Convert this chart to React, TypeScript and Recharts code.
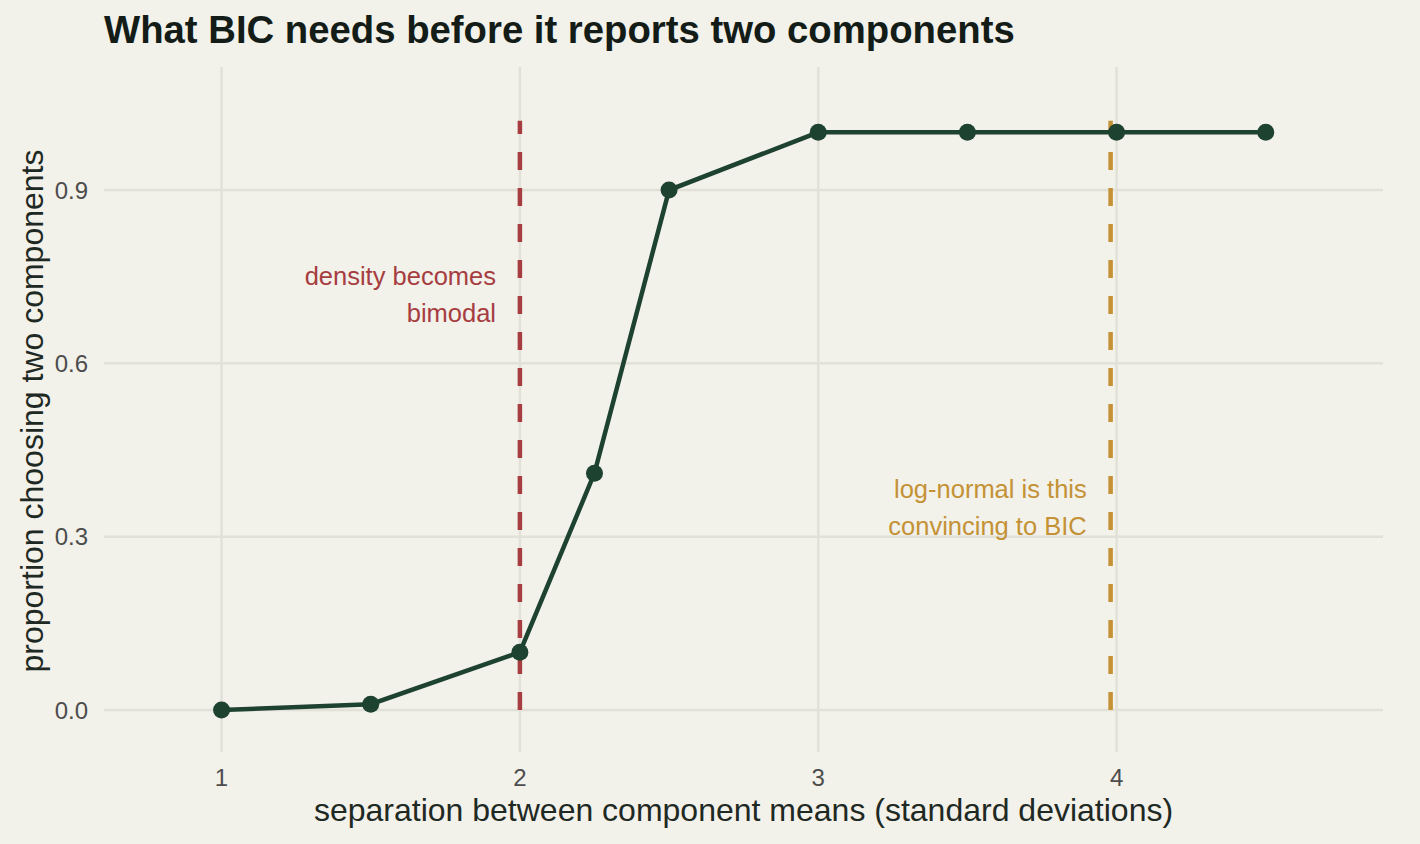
import { LineChart, Line, XAxis, YAxis, ReferenceLine, ReferenceDot } from "recharts";

// simulation result: share of runs where BIC picks two components
const separation = [1, 1.5, 2, 2.25, 2.5, 3, 3.5, 4, 4.5];
const proportion = [0, 0.01, 0.1, 0.41, 0.9, 1, 1, 1, 1];

const xTicks = [1, 2, 3, 4];
const yTicks = [0, 0.3, 0.6, 0.9];

// vertical markers
const markerX = [2, 3.98];
const markerTop = 1.02;
const markerColors = ["#A63D40", "#C49235"];

// annotations (right-aligned text, anchored between the two lines)
const noteX = [1.92, 3.9];
const noteY = [0.7035, 0.335];
const noteLines = [
  ["density becomes", "bimodal"],
  ["log-normal is this", "convincing to BIC"],
];

const data = separation.map((x, i) => ({ x, p: proportion[i] }));

const BG = "#F2F1EA";
const GRID = "#E2E1D8";
const INK = "#1E4230";
const FONT = '"Liberation Sans", Arial, Helvetica, sans-serif';

const W = 1420;
const H = 844;

function Note({ cx, cy, lines, color }: any) {
  return (
    <text x={cx} y={cy} textAnchor="end" fill={color} fontSize={25.5} fontFamily={FONT}>
      <tspan x={cx} dy={-18.5}>{lines[0]}</tspan>
      <tspan x={cx} dy={37}>{lines[1]}</tspan>
    </text>
  );
}

export default function App() {
  return (
    <div
      style={{
        position: "absolute",
        left: 0,
        top: 0,
        width: W,
        height: H,
        background: BG,
        fontFamily: FONT,
      }}
    >
      <LineChart width={W} height={H} data={data} margin={{ top: 67, right: 37, bottom: 0, left: 0 }}>
        <XAxis
          dataKey="x"
          type="number"
          domain={[0.606, 4.893]}
          ticks={xTicks}
          allowDataOverflow
          height={92}
          axisLine={false}
          tickLine={false}
          tickSize={0}
          tickMargin={17}
          tick={{ fontSize: 24, fill: "#4D4D4D", fontFamily: FONT }}
        />
        <YAxis
          type="number"
          domain={[-0.0727, 1.113]}
          ticks={yTicks}
          allowDataOverflow
          width={104}
          axisLine={false}
          tickLine={false}
          tickSize={0}
          tickMargin={16}
          tickFormatter={(v: number) => v.toFixed(1)}
          tick={{ fontSize: 24, fill: "#4D4D4D", fontFamily: FONT }}
        />
        {/* grid lines only at the ticks, no panel border */}
        {yTicks.map((t) => (
          <ReferenceLine key={"gy" + t} y={t} stroke={GRID} strokeWidth={2.5} />
        ))}
        {xTicks.map((t) => (
          <ReferenceLine key={"gx" + t} x={t} stroke={GRID} strokeWidth={2.5} />
        ))}
        {markerX.map((mx, i) => (
          <ReferenceLine
            key={"m" + i}
            segment={[
              { x: mx, y: 0 },
              { x: mx, y: markerTop },
            ]}
            stroke={markerColors[i]}
            strokeWidth={4.5}
            strokeDasharray="18 18"
          />
        ))}
        <Line
          dataKey="p"
          type="linear"
          stroke={INK}
          strokeWidth={4.5}
          dot={{ r: 8.5, fill: INK, stroke: "none" }}
          activeDot={false}
          isAnimationActive={false}
        />
        {noteX.map((nx, i) => (
          <ReferenceDot
            key={"n" + i}
            x={nx}
            y={noteY[i]}
            r={0}
            shape={(props: any) => <Note cx={props.cx} cy={props.cy} lines={noteLines[i]} color={markerColors[i]} />}
          />
        ))}
      </LineChart>
      <svg
        width={W}
        height={H}
        style={{ position: "absolute", left: 0, top: 0, pointerEvents: "none" }}
      >
        <text x={104} y={43} fontSize={38.3} fontWeight="bold" fill="#141C18" fontFamily={FONT}>
          What BIC needs before it reports two components
        </text>
        <text x={743.5} y={821} textAnchor="middle" fontSize={32} fill="#1F2923" fontFamily={FONT}>
          separation between component means (standard deviations)
        </text>
        <text
          x={43}
          y={411}
          textAnchor="middle"
          fontSize={32}
          fill="#1F2923"
          fontFamily={FONT}
          transform="rotate(-90 43 411)"
        >
          proportion choosing two components
        </text>
      </svg>
    </div>
  );
}
